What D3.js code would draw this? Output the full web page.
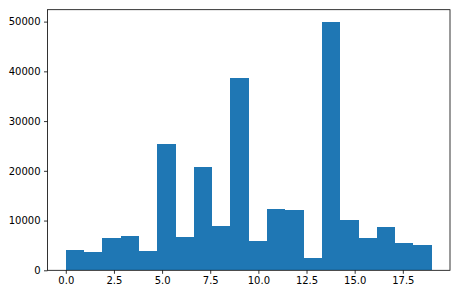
<!DOCTYPE html>
<html>
<head>
<meta charset="utf-8">
<script src="https://cdn.jsdelivr.net/npm/d3@7"></script>
<style>
  html, body { margin: 0; padding: 0; background: #fff; }
  svg { display: block; }
  text { font-family: "DejaVu Sans", sans-serif; font-size: 10px; fill: #000; }
</style>
</head>
<body>
<svg id="chart" width="461" height="299"></svg>
<script>
// histogram: 20 bins over [0, 19]
var binStarts = [0, 0.95, 1.9, 2.85, 3.8, 4.75, 5.7, 6.65, 7.6, 8.55,
                 9.5, 10.45, 11.4, 12.35, 13.3, 14.25, 15.2, 16.15, 17.1, 18.05];
var binEnds   = [0.95, 1.9, 2.85, 3.8, 4.75, 5.7, 6.65, 7.6, 8.55, 9.5,
                 10.45, 11.4, 12.35, 13.3, 14.25, 15.2, 16.15, 17.1, 18.05, 19];
var counts    = [4100, 3650, 6550, 6950, 3900, 25300, 6750, 20750, 8900, 38700,
                 5850, 12250, 12050, 2450, 49900, 10150, 6550, 8650, 5550, 5050];
var xTicks = [0, 2.5, 5, 7.5, 10, 12.5, 15, 17.5];
var yTicks = [0, 10000, 20000, 30000, 40000, 50000];

var width = 461, height = 299;
var margin = {left: 47.5, right: 11, top: 9.7, bottom: 28.7};
var svg = d3.select("#chart");

// matplotlib style 5% margins
var xmin = d3.min(binStarts), xmax = d3.max(binEnds);
var pad = (xmax - xmin) * 0.05;
var x = d3.scaleLinear()
    .domain([xmin - pad, xmax + pad])
    .range([margin.left, width - margin.right]);
var y = d3.scaleLinear()
    .domain([0, d3.max(counts) * 1.05])
    .range([height - margin.bottom, margin.top]);

var bins = counts.map(function(c, i){
  return {x0: binStarts[i], x1: binEnds[i], count: c};
});

svg.append("g").selectAll("rect")
    .data(bins)
    .enter()
    .append("rect")
    .attr("x", function(d){ return x(d.x0); })
    .attr("width", function(d){ return x(d.x1) - x(d.x0); })
    .attr("y", function(d){ return y(d.count); })
    .attr("height", function(d){ return y(0) - y(d.count); })
    .attr("fill", "#1f77b4")
    .attr("shape-rendering", "crispEdges");

var xAxis = d3.axisBottom(x)
    .tickValues(xTicks)
    .tickFormat(d3.format(".1f"))
    .tickSizeInner(3.5).tickSizeOuter(0).tickPadding(3.5);
var yAxis = d3.axisLeft(y)
    .tickValues(yTicks)
    .tickFormat(d3.format("d"))
    .tickSizeInner(3.5).tickSizeOuter(0).tickPadding(3.5);

var gx = svg.append("g")
    .attr("transform", "translate(0," + (height - margin.bottom) + ")")
    .call(xAxis);
var gy = svg.append("g")
    .attr("transform", "translate(" + margin.left + ",0)")
    .call(yAxis);

[gx, gy].forEach(function(g){
  g.select(".domain").remove();
  g.selectAll(".tick line").attr("stroke", "#000").attr("stroke-width", 0.8);
  g.selectAll(".tick text")
    .attr("fill", "#000")
    .style("font-family", "'DejaVu Sans', sans-serif")
    .style("font-size", "10px");
});

// spines
svg.append("rect")
    .attr("x", margin.left)
    .attr("y", margin.top)
    .attr("width", width - margin.right - margin.left)
    .attr("height", height - margin.bottom - margin.top)
    .attr("fill", "none")
    .attr("stroke", "#000")
    .attr("stroke-width", 0.8);
</script>
</body>
</html>
